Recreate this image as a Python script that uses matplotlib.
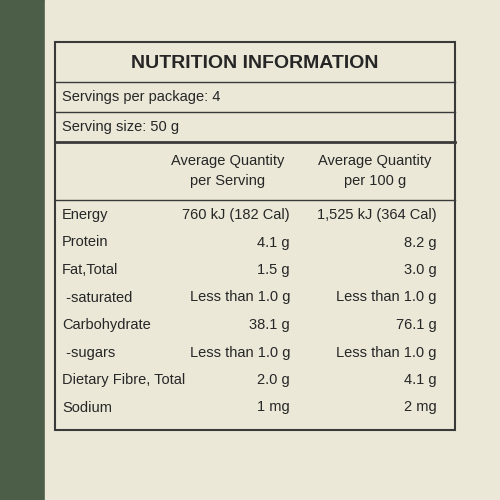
import matplotlib.pyplot as plt

plt.rcParams['font.family'] = ['Liberation Sans', 'DejaVu Sans']

title = 'NUTRITION INFORMATION'
servings = 'Servings per package: 4'
serving_size = 'Serving size: 50 g'
headers = ['Average Quantity\nper Serving', 'Average Quantity\nper 100 g']
nutrients = ['Energy', 'Protein', 'Fat,Total', ' -saturated', 'Carbohydrate',
             ' -sugars', 'Dietary Fibre, Total', 'Sodium']
per_serving = ['760 kJ (182 Cal)', '4.1 g', '1.5 g', 'Less than 1.0 g', '38.1 g',
               'Less than 1.0 g', '2.0 g', '1 mg']
per_100g = ['1,525 kJ (364 Cal)', '8.2 g', '3.0 g', 'Less than 1.0 g', '76.1 g',
            'Less than 1.0 g', '4.1 g', '2 mg']

fig = plt.figure(figsize=(5, 5), dpi=100)
fig.patch.set_facecolor('#e9e6d6')
ax = fig.add_axes([0, 0, 1, 1])
ax.set_xlim(0, 500)
ax.set_ylim(500, 0)
ax.axis('off')

# dark green edge on the left and the cream label
ax.add_patch(plt.Rectangle((0, 0), 45, 500, color='#4d5e48'))
ax.add_patch(plt.Rectangle((45, 0), 455, 500, color='#ebe8d8'))
ax.add_patch(plt.Rectangle((55, 42), 400, 388, fill=False, ec='#3a3a3a', lw=1.5))

ax.plot([55, 455], [82, 82], color='#3a3a3a', lw=1)
ax.plot([55, 455], [112, 112], color='#3a3a3a', lw=1)
ax.plot([55, 455], [142, 142], color='#3a3a3a', lw=2)
ax.plot([55, 455], [200, 200], color='#3a3a3a', lw=1)

tc = '#262626'
ax.text(255, 64, title, ha='center', va='center', fontsize=14, fontweight='bold', color=tc)
ax.text(62, 97, servings, ha='left', va='center', fontsize=10.5, color=tc)
ax.text(62, 127, serving_size, ha='left', va='center', fontsize=10.5, color=tc)
ax.text(228, 171, headers[0], ha='center', va='center', fontsize=10.5, color=tc, linespacing=1.6)
ax.text(375, 171, headers[1], ha='center', va='center', fontsize=10.5, color=tc, linespacing=1.6)

for i, (n, a, b) in enumerate(zip(nutrients, per_serving, per_100g)):
    y = 215 + i * 27.5
    ax.text(62, y, n, ha='left', va='center', fontsize=10.5, color=tc)
    ax.text(290, y, a, ha='right', va='center', fontsize=10.5, color=tc)
    ax.text(437, y, b, ha='right', va='center', fontsize=10.5, color=tc)

fig.savefig('out.png', dpi=100, facecolor=fig.get_facecolor())
